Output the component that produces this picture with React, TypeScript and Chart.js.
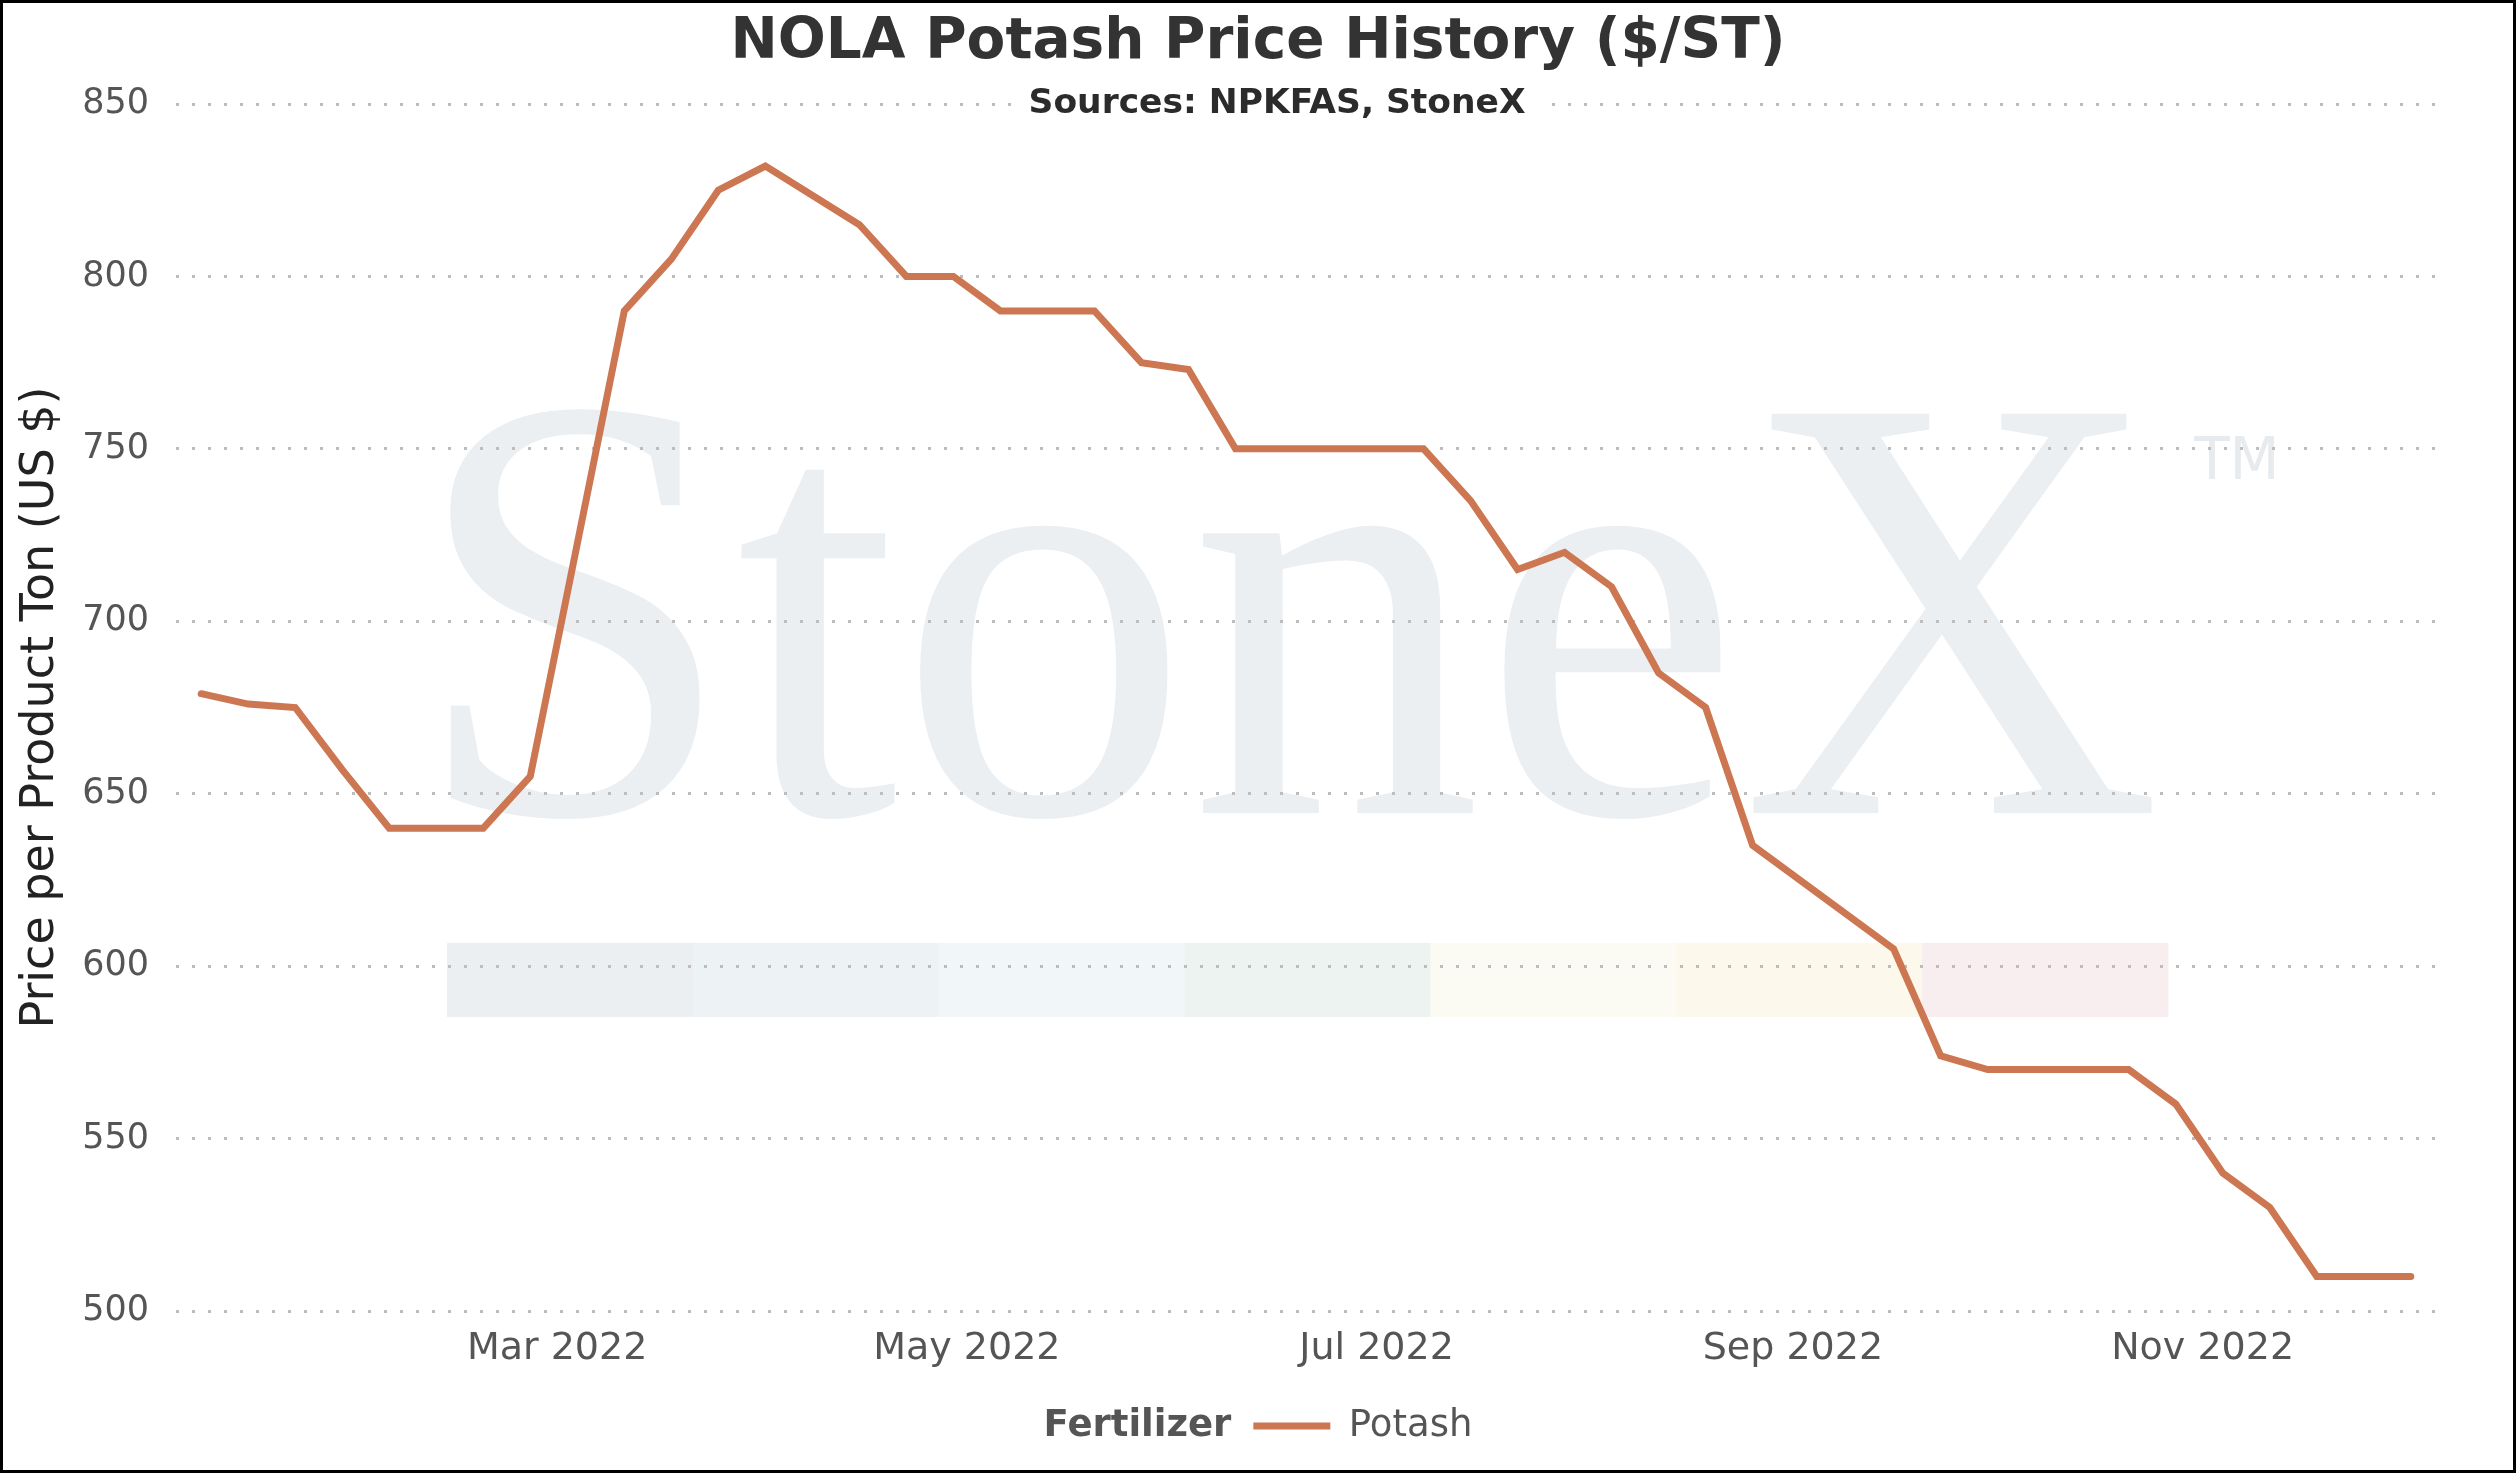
import { useEffect, useRef } from "react";
import { Chart, registerables } from "chart.js";

Chart.register(...registerables);

const FONT = '"DejaVu Sans", Verdana, sans-serif';

const TITLE = "NOLA Potash Price History ($/ST)";
const SUBTITLE = "Sources: NPKFAS, StoneX";
const Y_TITLE = "Price per Product Ton (US $)";
const LEGEND_TITLE = "Fertilizer";
const SERIES_NAME = "Potash";

const dates = [
  "2022-01-07", "2022-01-14", "2022-01-21", "2022-01-28",
  "2022-02-04", "2022-02-11", "2022-02-18", "2022-02-25",
  "2022-03-11", "2022-03-18", "2022-03-25", "2022-04-01",
  "2022-04-15", "2022-04-22", "2022-04-29",
  "2022-05-06", "2022-05-13", "2022-05-20", "2022-05-27",
  "2022-06-03", "2022-06-10", "2022-06-17", "2022-06-24",
  "2022-07-01", "2022-07-08", "2022-07-15", "2022-07-22", "2022-07-29",
  "2022-08-05", "2022-08-12", "2022-08-19", "2022-08-26",
  "2022-09-16", "2022-09-23", "2022-09-30",
  "2022-10-07", "2022-10-14", "2022-10-21", "2022-10-28",
  "2022-11-04", "2022-11-11", "2022-11-18", "2022-11-25", "2022-12-02",
];

const potash = [
  679, 676, 675, 657,
  640, 640, 640, 655,
  790, 805, 825, 832,
  815, 800, 800,
  790, 790, 790, 775,
  773, 750, 750, 750,
  750, 750, 735, 715, 720,
  710, 685, 675, 635,
  605, 574, 570,
  570, 570, 570, 560,
  540, 530, 510, 510, 510,
];

const xTickDates = ["2022-03-01", "2022-05-01", "2022-07-01", "2022-09-01", "2022-11-01"];
const xRange = ["2022-01-03T06:00:00Z", "2022-12-05T18:00:00Z"];
const yTicks = [500, 550, 600, 650, 700, 750, 800, 850];
const MONTHS = ["Jan", "Feb", "Mar", "Apr", "May", "Jun", "Jul", "Aug", "Sep", "Oct", "Nov", "Dec"];

const WATERMARK_BARS = ["#ebeff2", "#edf2f5", "#f1f6f9", "#edf3f1", "#fcfbf3", "#fcf8ec", "#f9eeef"];

const toMs = (s: string) => Date.parse(s.length === 10 ? s + "T00:00:00Z" : s);
const fmtMonth = (v: number) => {
  const d = new Date(v);
  return `${MONTHS[d.getUTCMonth()]} ${d.getUTCFullYear()}`;
};

export default function App() {
  const ref = useRef<HTMLCanvasElement>(null);

  useEffect(() => {
    document.body.style.margin = "0";
    const canvas = ref.current;
    if (!canvas) return;

    const watermark = {
      id: "watermark",
      beforeDraw(chart: any) {
        const ctx = chart.ctx;
        const ca = chart.chartArea;
        const W = ca.right - ca.left;
        const H = ca.bottom - ca.top;
        ctx.save();
        // coloured band
        const bx0 = ca.left + W * 0.1199;
        const bx1 = ca.left + W * 0.8814;
        const by0 = ca.top + H * 0.695;
        const by1 = ca.top + H * 0.7564;
        const sw = (bx1 - bx0) / WATERMARK_BARS.length;
        WATERMARK_BARS.forEach((c, i) => {
          ctx.fillStyle = c;
          ctx.fillRect(bx0 + i * sw, by0, sw + 0.5, by1 - by0);
        });
        // StoneX text
        ctx.font = `${Math.round(H * 0.505)}px "Liberation Serif", serif`;
        ctx.fillStyle = "#ebeff2";
        ctx.textBaseline = "alphabetic";
        ctx.textAlign = "left";
        const m = ctx.measureText("StoneX");
        const inkL = m.actualBoundingBoxLeft || 0;
        const inkW = (m.actualBoundingBoxRight || m.width) + inkL;
        const targetL = ca.left + W * 0.1202;
        const target = W * (0.8779 - 0.1202);
        const sc = target / inkW;
        ctx.save();
        ctx.translate(targetL + inkL * sc, ca.top + H * 0.5875);
        ctx.scale(sc, 1);
        ctx.fillText("StoneX", 0, 0);
        ctx.restore();
        ctx.font = `58px ${FONT}`;
        ctx.fillStyle = "#e7ebee";
        ctx.fillText("TM", ca.left + W * 0.893, ca.top + H * 0.311);
        ctx.restore();
      },
    };

    const extras = {
      id: "extras",
      afterLayout(chart: any) {
        const lg = chart.legend;
        if (!lg) return;
        const ctx = chart.ctx;
        ctx.save();
        ctx.font = `bold 37px ${FONT}`;
        const w = ctx.measureText(LEGEND_TITLE).width;
        ctx.restore();
        const shift = (w + 22) / 2;
        lg.left += shift;
        lg.right += shift;
      },
      afterDraw(chart: any) {
        const ctx = chart.ctx;
        const ca = chart.chartArea;
        ctx.save();
        // subtitle
        ctx.font = `bold 34.5px ${FONT}`;
        ctx.textAlign = "center";
        ctx.textBaseline = "middle";
        const sw = ctx.measureText(SUBTITLE).width;
        const sx = chart.width * 0.5076;
        const sy = ca.top;
        ctx.fillStyle = "#ffffff";
        ctx.fillRect(sx - sw / 2 - 14, sy - 22, sw + 28, 44);
        ctx.fillStyle = "#2b2b2b";
        ctx.fillText(SUBTITLE, sx, sy);
        // legend title
        const lg = chart.legend;
        if (lg && lg.legendHitBoxes && lg.legendHitBoxes.length) {
          const hb = lg.legendHitBoxes[0];
          ctx.font = `bold 37px ${FONT}`;
          ctx.textAlign = "right";
          ctx.fillStyle = "#555555";
          ctx.fillText(LEGEND_TITLE, hb.left - 22, hb.top + 18.5);
        }
        ctx.restore();
      },
    };

    const chart = new Chart(canvas, {
      type: "line",
      data: {
        datasets: [
          {
            label: SERIES_NAME,
            data: dates.map((d, i) => ({ x: toMs(d), y: potash[i] })),
            borderColor: "#cd7652",
            backgroundColor: "#cd7652",
            borderWidth: 7,
            pointRadius: 0,
            pointHoverRadius: 0,
            tension: 0,
            borderCapStyle: "round",
            fill: false,
          },
        ],
      },
      options: {
        animation: false,
        responsive: true,
        maintainAspectRatio: false,
        parsing: false,
        layout: { padding: { left: 0, right: 0, top: 0, bottom: 15.5 } },
        interaction: { mode: "nearest", intersect: false },
        scales: {
          x: {
            type: "linear",
            min: toMs(xRange[0]),
            max: toMs(xRange[1]),
            grid: { display: false, drawTicks: false },
            border: { display: false },
            afterBuildTicks: (s: any) => {
              s.ticks = xTickDates.map((d) => ({ value: toMs(d) }));
            },
            afterFit: (s: any) => {
              s.height = 86.5;
            },
            ticks: {
              autoSkip: false,
              maxRotation: 0,
              padding: 15,
              color: "#555555",
              font: { family: FONT, size: 38 },
              callback: (v: any) => fmtMonth(Number(v)),
            },
          },
          y: {
            type: "linear",
            position: "left",
            min: yTicks[0],
            max: yTicks[yTicks.length - 1],
            afterBuildTicks: (s: any) => {
              s.ticks = yTicks.map((v) => ({ value: v }));
            },
            afterFit: (s: any) => {
              s.width = 173;
            },
            grid: { color: "#bdbdbd", lineWidth: 3, drawTicks: false },
            border: { display: false, dash: [3, 13] },
            ticks: {
              padding: 27,
              color: "#555555",
              font: { family: FONT, size: 35 },
            },
            title: {
              display: true,
              text: Y_TITLE,
              color: "#222222",
              font: { family: FONT, size: 46 },
              padding: { top: 10, bottom: 0 },
            },
          },
          yRight: {
            type: "linear",
            position: "right",
            display: true,
            grid: { display: false, drawTicks: false },
            border: { display: false },
            ticks: { display: false },
            afterFit: (s: any) => {
              s.width = 77;
            },
          },
        },
        plugins: {
          title: {
            display: true,
            text: TITLE,
            color: "#333333",
            font: { family: FONT, size: 56.5, weight: "bold" },
            padding: { top: 6, bottom: 27.2 },
          },
          legend: {
            display: true,
            position: "bottom",
            labels: {
              usePointStyle: true,
              pointStyle: "line",
              pointStyleWidth: 77,
              color: "#555555",
              font: { family: FONT, size: 37 },
              padding: 10,
            },
          },
          tooltip: { enabled: false },
        },
      },
      plugins: [watermark, extras],
    } as any);

    return () => chart.destroy();
  }, []);

  return (
    <div
      style={{
        position: "fixed",
        left: 0,
        top: 0,
        width: 2516,
        height: 1473,
        boxSizing: "border-box",
        border: "3px solid #000",
        background: "#ffffff",
      }}
    >
      <canvas ref={ref} />
    </div>
  );
}
